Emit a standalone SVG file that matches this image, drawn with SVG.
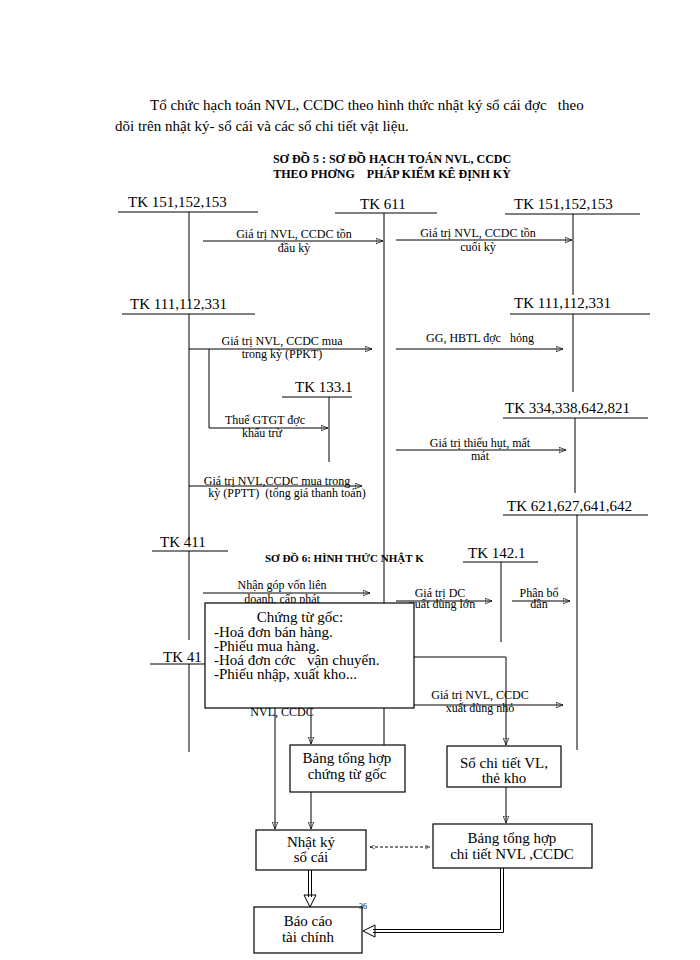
<svg xmlns="http://www.w3.org/2000/svg" width="700" height="960" viewBox="0 0 700 960">
<defs>
<style>
text{font-family:"Liberation Serif",serif;fill:#000;white-space:pre}
.p{font-size:15px}
.t{font-size:12px;font-weight:bold}
.tk{font-size:15px}
.l{font-size:12px;text-anchor:middle}
.b{font-size:15px;text-anchor:middle}
line,path{stroke:#000;stroke-width:1;fill:none}
.bx{fill:#fff;stroke:#000;stroke-width:1.2}
.a{marker-end:url(#ah)}
</style>
<marker id="ah" viewBox="0 0 10 10" refX="10" refY="5" markerWidth="7" markerHeight="7" orient="auto-start-reverse"><path d="M0,1 L10,5 L0,9 z" fill="#000" stroke="none"/></marker>
<marker id="ahs" viewBox="0 0 10 10" refX="10" refY="5" markerWidth="5" markerHeight="5" orient="auto-start-reverse"><path d="M0,1 L10,5 L0,9" fill="none" stroke="#000"/></marker>
</defs>
<rect width="700" height="960" fill="#fff"/>
<text class="p" x="150" y="110" xml:space="preserve">Tổ chức hạch toán NVL, CCDC theo hình thức nhật ký sổ cái đợc   theo</text>
<text class="p" x="115" y="131">dõi trên nhật ký- sổ cái và các sổ chi tiết vật liệu.</text>
<text class="t" x="392" y="163" text-anchor="middle">SƠ ĐỒ 5 : SƠ ĐỒ HẠCH TOÁN NVL, CCDC</text>
<text class="t" x="392" y="178" text-anchor="middle" xml:space="preserve">THEO PHƠNG    PHÁP KIỂM KÊ ĐỊNH KỲ</text>
<text class="t" x="265" y="562" style="font-size:11px">SƠ ĐỒ 6: HÌNH THỨC NHẬT K</text>

<g id="accounts">
<text class="tk" x="128" y="207">TK 151,152,153</text><line x1="118" y1="212" x2="258" y2="212"/><line x1="189" y1="212" x2="189" y2="300"/>
<text class="tk" x="360" y="209">TK 611</text><line x1="335" y1="213" x2="437" y2="213"/><line x1="384" y1="213" x2="384" y2="745"/>
<text class="tk" x="514" y="209">TK 151,152,153</text><line x1="505" y1="214" x2="640" y2="214"/><line x1="573" y1="214" x2="573" y2="295"/>
<text class="tk" x="130" y="309">TK 111,112,331</text><line x1="122" y1="314" x2="255" y2="314"/><line x1="189" y1="314" x2="189" y2="540"/>
<text class="tk" x="514" y="308">TK 111,112,331</text><line x1="510" y1="314" x2="650" y2="314"/><line x1="573" y1="314" x2="573" y2="392"/>
<text class="tk" x="295" y="392">TK 133.1</text><line x1="282" y1="397" x2="352" y2="397"/><line x1="329" y1="397" x2="329" y2="462"/>
<text class="tk" x="505" y="413">TK 334,338,642,821</text><line x1="503" y1="418" x2="648" y2="418"/><line x1="575" y1="418" x2="575" y2="493"/>
<text class="tk" x="507" y="511">TK 621,627,641,642</text><line x1="503" y1="515" x2="648" y2="515"/><line x1="577" y1="515" x2="577" y2="750"/>
<text class="tk" x="160" y="547">TK 411</text><line x1="152" y1="551" x2="228" y2="551"/><line x1="189" y1="551" x2="189" y2="640"/>
<text class="tk" x="468" y="558">TK 142.1</text><line x1="463" y1="562" x2="538" y2="562"/><line x1="501" y1="562" x2="501" y2="642"/>
<text class="tk" x="163" y="662">TK 41</text><line x1="150" y1="664" x2="205" y2="664"/><line x1="189" y1="664" x2="189" y2="752"/>
</g>

<g id="flows">
<line class="a" x1="203" y1="241" x2="383" y2="241"/><text class="l" x="294" y="238">Giá trị NVL, CCDC tồn</text><text class="l" x="294" y="252">đầu kỳ</text>
<line class="a" x1="396" y1="240" x2="572" y2="240"/><text class="l" x="478" y="237">Giá trị NVL, CCDC tồn</text><text class="l" x="478" y="251">cuối kỳ</text>
<line class="a" x1="189" y1="349" x2="372" y2="349"/><text class="l" x="282" y="345">Giá trị NVL, CCDC mua</text><text class="l" x="282" y="358">trong kỳ (PPKT)</text>
<line class="a" x1="396" y1="349" x2="563" y2="349"/><text class="l" x="480" y="342" xml:space="preserve">GG, HBTL đợc   hỏng</text>
<path class="a" d="M209,349 V428 H328"/><text class="l" x="265" y="424">Thuế GTGT đợc</text><text class="l" x="262" y="437">khấu trừ</text>
<line class="a" x1="396" y1="450" x2="566" y2="450"/><text class="l" x="480" y="447">Giá trị thiếu hụt, mất</text><text class="l" x="480" y="460">mát</text>
<line class="a" x1="189" y1="486" x2="362" y2="486"/><text class="l" x="277" y="485">Giá trị NVL,CCDC mua trong</text><text class="l" x="287" y="497" xml:space="preserve">kỳ (PPTT)  (tổng giá thanh toán)</text>
<line class="a" x1="203" y1="593" x2="370" y2="593"/><text class="l" x="282" y="589">Nhận góp vốn liên</text><text class="l" x="282" y="603">doanh, cấp phát</text>
<line class="a" x1="396" y1="601" x2="492" y2="601"/><text class="l" x="440" y="597">Giá trị DC</text><text class="l" x="442" y="608">xuất dùng lớn</text>
<line class="a" x1="512" y1="601" x2="570" y2="601"/><text class="l" x="539" y="597">Phân bổ</text><text class="l" x="539" y="608">dần</text>
<line class="a" x1="414" y1="705" x2="563" y2="705"/><text class="l" x="480" y="699">Giá trị NVL, CCDC</text><text class="l" x="480" y="712">xuất dùng nhỏ</text>
<text class="l" x="282" y="716">NVL, CCDC</text>
</g>

<g id="box-chungtu">
<rect class="bx" x="205" y="603" width="209" height="105"/>
<text class="b" x="300" y="622">Chứng từ gốc:</text>
<text class="p" x="214" y="637">-Hoá đơn bán hàng.</text>
<text class="p" x="214" y="651">-Phiếu mua hàng.</text>
<text class="p" x="214" y="665" xml:space="preserve">-Hoá đơn cớc   vận chuyển.</text>
<text class="p" x="214" y="679">-Phiếu nhập, xuất kho...</text>
</g>

<g id="connectors">
<path class="a" d="M414,657 H506 V745"/>
<line class="a" x1="275" y1="708" x2="275" y2="829"/>
<line class="a" x1="311" y1="708" x2="311" y2="744"/>
<line class="a" x1="311" y1="792" x2="311" y2="829"/>
<line class="a" x1="506" y1="787" x2="506" y2="823"/>
<line x1="370" y1="847" x2="430" y2="847" stroke-dasharray="3,2" marker-start="url(#ahs)" marker-end="url(#ahs)"/>
<line x1="308.5" y1="870" x2="308.5" y2="897"/><line x1="311.5" y1="870" x2="311.5" y2="897"/>
<path d="M304,895 L316,895 L310,907 z" fill="#000"/>
<path d="M500.5,868 V929.5 H373 M503.5,868 V932.5 H373"/>
<path d="M363,931 L375,925 L375,937 z" fill="#000"/>
</g>

<g id="box-bangthck"><rect class="bx" x="290" y="745" width="115" height="47"/><text class="b" x="347" y="763">Bảng tổng hợp</text><text class="b" x="347" y="779">chứng từ gốc</text></g>
<g id="box-sochitiet"><rect class="bx" x="447" y="746" width="114" height="41"/><text class="b" x="504" y="768">Sổ chi tiết VL,</text><text class="b" x="504" y="783">thẻ kho</text></g>
<g id="box-nhatky"><rect class="bx" x="256" y="830" width="110" height="40"/><text class="b" x="311" y="847">Nhật ký</text><text class="b" x="311" y="862">sổ cái</text></g>
<g id="box-bangct"><rect class="bx" x="433" y="824" width="159" height="44"/><text class="b" x="512" y="843">Bảng tổng hợp</text><text class="b" x="512" y="859">chi tiết NVL ,CCDC</text></g>
<g id="box-baocao"><rect class="bx" x="254" y="907" width="108" height="46"/><text class="b" x="308" y="926">Báo cáo</text><text class="b" x="308" y="942">tài chính</text></g>
<text x="359" y="909" style="font-size:8px">36</text>
</svg>
